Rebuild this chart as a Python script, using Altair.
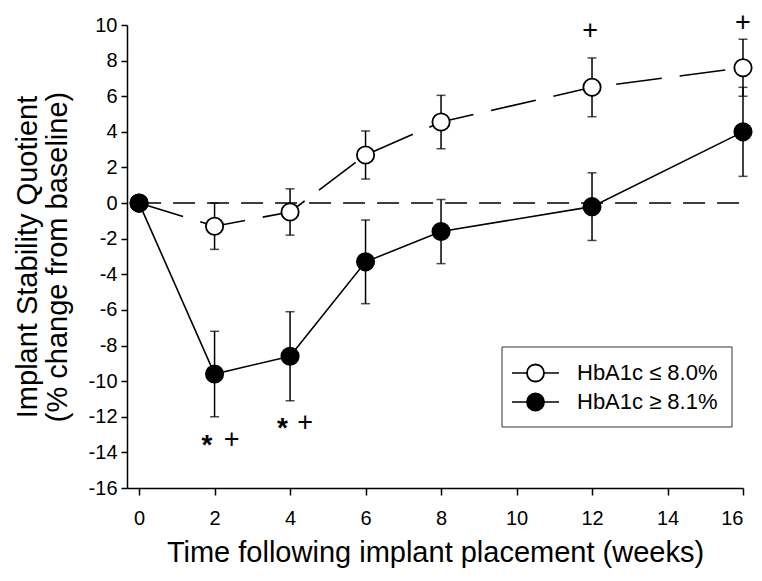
import altair as alt
import pandas as pd

# ---- data ----
weeks = [0, 2, 4, 6, 8, 12, 16]
groups = ["HbA1c ≤ 8.0%", "HbA1c ≥ 8.1%"]
low_mean = [0, -1.3, -0.5, 2.7, 4.55, 6.5, 7.6]
low_err = [0, 1.3, 1.3, 1.35, 1.5, 1.65, 1.6]
high_mean = [0, -9.6, -8.6, -3.3, -1.6, -0.2, 4.0]
high_err = [0, 2.4, 2.5, 2.35, 1.8, 1.9, 2.5]

ann_x = [1.8, 2.45, 3.8, 4.4, 11.95, 16.0]
ann_y = [-13.3, -13.3, -12.35, -12.35, 9.65, 10.1]
ann_text = ["*", "+", "*", "+", "+", "+"]

x_ticks = [0, 2, 4, 6, 8, 10, 12, 14, 16]
y_ticks = list(range(-16, 11, 2))

FONT = "Liberation Sans"

rows = []
for g, means, errs in [(groups[0], low_mean, low_err), (groups[1], high_mean, high_err)]:
    for w, m, e in zip(weeks, means, errs):
        rows.append({"week": w, "value": m, "lo": m - e, "hi": m + e, "group": g, "err": e})
df = pd.DataFrame(rows)
err_df = df[df["err"] > 0]
low_df = df[df["group"] == groups[0]]
high_df = df[df["group"] == groups[1]]

ann = pd.DataFrame({"x": ann_x, "y": ann_y, "t": ann_text})
star_df = ann[ann["t"] == "*"]
plus_df = ann[ann["t"] == "+"]

zero_df = pd.DataFrame({"week": [0], "week2": [16], "value": [0]})

xscale = alt.Scale(domain=[-0.32, 16], nice=False, zero=False)
yscale = alt.Scale(domain=[-16, 10], nice=False, zero=False)

XT = "Time following implant placement (weeks)"
YT = ["Implant Stability Quotient", "(% change from baseline)"]

x_axis = alt.Axis(values=x_ticks, title=XT, tickSize=7, labelPadding=13, titlePadding=10,
                  labelOverlap=False, grid=False)
y_axis = alt.Axis(values=y_ticks, title=YT, tickSize=6, labelPadding=4, titlePadding=16,
                  labelOverlap=False, grid=False, titleLineHeight=30,
                  labelExpr="'' + datum.value")


def X(field):
    return alt.X(field, scale=xscale, axis=x_axis, title=XT)


def Y(field):
    return alt.Y(field, scale=yscale, axis=y_axis, title=YT)


zero = alt.Chart(zero_df).mark_rule(color="black", strokeWidth=1.5, strokeDash=[22, 12]).encode(
    x=X("week:Q"), x2="week2:Q", y=Y("value:Q")
)

line_low = alt.Chart(low_df).mark_line(color="black", strokeWidth=1.6, strokeDash=[46, 18]).encode(
    x=X("week:Q"), y=Y("value:Q")
)
line_high = alt.Chart(high_df).mark_line(color="black", strokeWidth=1.6).encode(
    x=X("week:Q"), y=Y("value:Q")
)

bars = alt.Chart(err_df).mark_rule(color="black", strokeWidth=1.5).encode(
    x=X("week:Q"), y=Y("lo:Q"), y2="hi:Q"
)
cap_hi = alt.Chart(err_df).mark_tick(color="black", orient="horizontal", size=9, thickness=1.5).encode(
    x=X("week:Q"), y=Y("hi:Q")
)
cap_lo = alt.Chart(err_df).mark_tick(color="black", orient="horizontal", size=9, thickness=1.5).encode(
    x=X("week:Q"), y=Y("lo:Q")
)

points = alt.Chart(df).mark_point(filled=True, size=300, stroke="black", strokeWidth=1.8, opacity=1).encode(
    x=X("week:Q"), y=Y("value:Q"),
    fill=alt.Fill("group:N", scale=alt.Scale(domain=groups, range=["white", "black"]), legend=None),
)

stars = alt.Chart(star_df).mark_text(fontSize=28, fontWeight="bold", font=FONT, color="black", dy=6).encode(
    x=X("x:Q"), y=Y("y:Q"), text="t:N"
)
pluses = alt.Chart(plus_df).mark_text(fontSize=27, font=FONT, color="black").encode(
    x=X("x:Q"), y=Y("y:Q"), text="t:N"
)

# ---- hand-built legend box (pixel layout inside the plot area) ----
legend_layers = [
    alt.Chart(pd.DataFrame({"k": [0]})).mark_rect(fill="white", stroke="#333333", strokeWidth=1).encode(
        x=alt.value(375), x2=alt.value(605), y=alt.value(322), y2=alt.value(402)
    )
]
row_y = [348, 377]
row_fill = ["white", "black"]
for label, yy, fc in zip(groups, row_y, row_fill):
    one = pd.DataFrame({"label": [label]})
    legend_layers.append(
        alt.Chart(one).mark_rule(color="black", strokeWidth=1.6).encode(
            x=alt.value(385), x2=alt.value(432), y=alt.value(yy)
        )
    )
    legend_layers.append(
        alt.Chart(one).mark_point(filled=True, size=290, stroke="black", strokeWidth=1.8,
                                  fill=fc, opacity=1).encode(
            x=alt.value(408.5), y=alt.value(yy)
        )
    )
    legend_layers.append(
        alt.Chart(one).mark_text(fontSize=22, font=FONT, color="black", align="left",
                                 baseline="middle").encode(
            x=alt.value(450), y=alt.value(yy), text="label:N"
        )
    )

chart = alt.layer(zero, line_low, line_high, bars, cap_hi, cap_lo, points, stars, pluses,
                  *legend_layers).properties(
    width=616, height=463,
    autosize=alt.AutoSizeParams(type="none"),
    padding={"left": 119, "top": 17, "right": 10, "bottom": 80},
).configure(background="white").configure_view(stroke=None).configure_axis(
    grid=False, domainColor="black", domainWidth=1.5, tickColor="black", tickWidth=1.5,
    labelFont=FONT, labelFontSize=20, labelColor="black",
    titleFont=FONT, titleFontSize=29, titleFontWeight="normal", titleColor="black",
)

chart.save("out.html", embed_options={"renderer": "svg", "actions": False})
